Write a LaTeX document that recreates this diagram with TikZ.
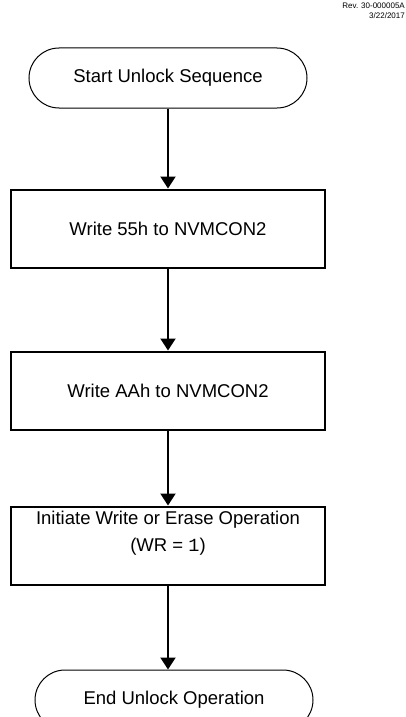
\documentclass[tikz,border=0pt]{standalone}
\usepackage{fontspec}
\setmainfont{Liberation Sans}
\setmonofont{Liberation Mono}
\usetikzlibrary{positioning,arrows.meta}

\begin{document}
\begin{tikzpicture}[
    font=\fontsize{18.5}{27}\selectfont,
    terminal/.style={draw, line width=1pt, rounded corners=30pt,
        minimum width=278pt, minimum height=60pt, inner sep=0pt},
    process/.style={draw, line width=2pt, minimum width=314pt,
        minimum height=78pt, inner sep=0pt, align=center},
    flow/.style={line width=2pt, -{Triangle[width=15pt,length=12pt]}}
  ]
    \useasboundingbox (0,0) rectangle (406pt,-717pt);
    \node[anchor=north east, align=right, font=\fontsize{8}{10}\selectfont,
          inner sep=0pt] (rev) at (405pt,-3pt) {Rev. 30-000005A\\3/22/2017};
    \node[terminal]                              (start)  at (168pt,-78pt) {Start Unlock Sequence}; %
    \node[process, below=80pt of start]          (write55) {Write 55h to NVMCON2};
    \node[process, below=82pt of write55]        (writeAA) {Write AAh to NVMCON2};
    \node[process, below=75pt of writeAA]        (initiate) {Initiate Write or Erase Operation\\(WR = \texttt{1})\\[2pt]};
    \node[terminal, below=84pt of initiate, xshift=6pt] (finish) {End Unlock Operation};
    \draw[flow] (start) -- (write55);
    \draw[flow] (write55) -- (writeAA);
    \draw[flow] (writeAA) -- (initiate);
    \draw[flow] (initiate.south) -- (initiate.south |- finish.north);
\end{tikzpicture}
\end{document}
